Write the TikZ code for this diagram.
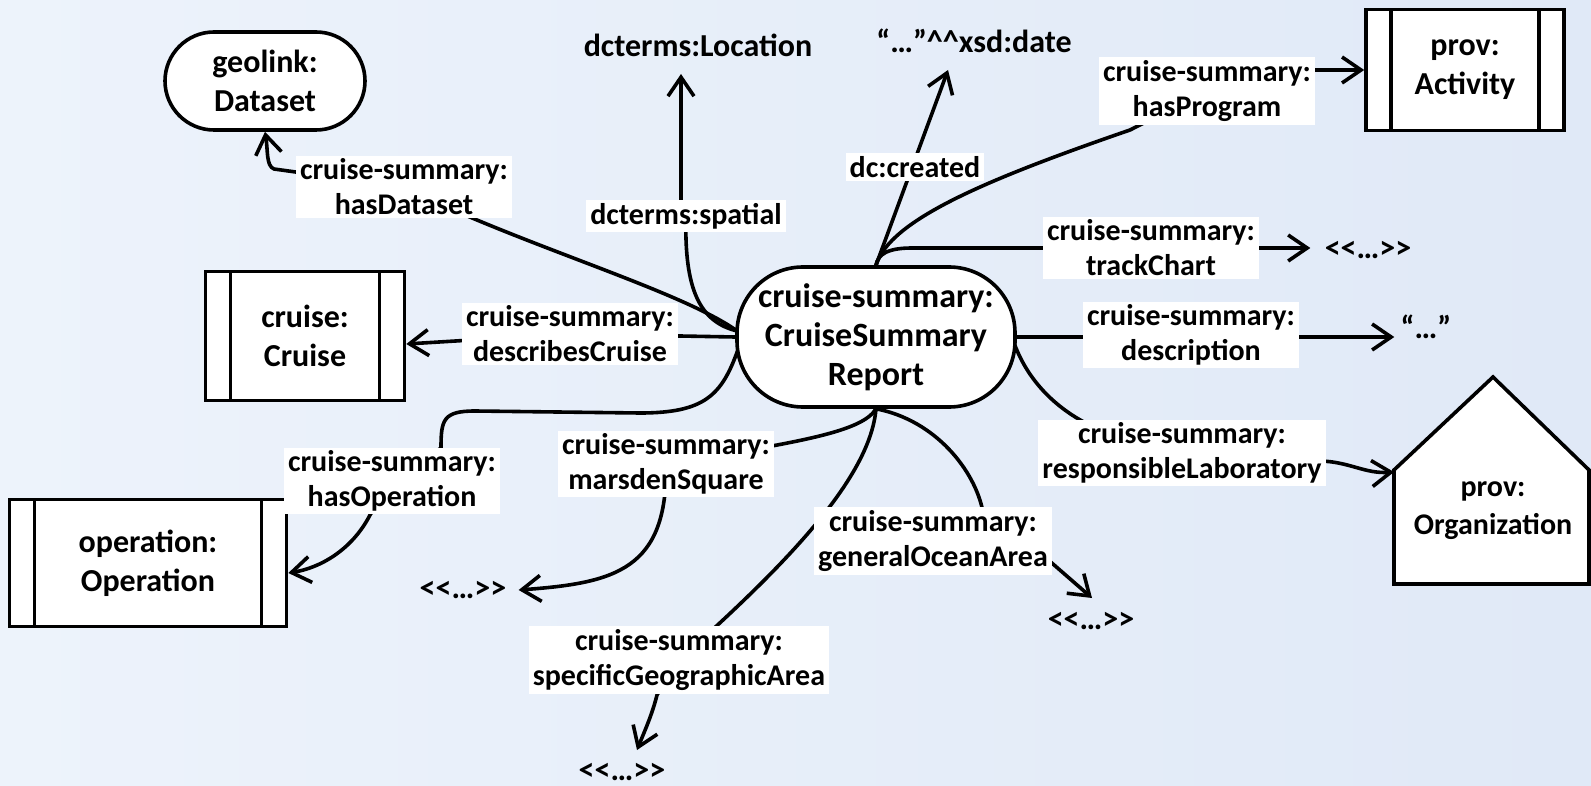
\documentclass[tikz,border=0pt]{standalone}
\usepackage{fontspec}
\setmainfont{Carlito}
\usetikzlibrary{arrows.meta,calc}
\pgfdeclarelayer{bgl}
\pgfdeclarelayer{edges}
\pgfsetlayers{bgl,edges,main}
\definecolor{bgA}{RGB}{237,243,251}
\definecolor{bgB}{RGB}{224,233,247}
\begin{document}
\begin{tikzpicture}[x=0.5pt,y=-0.5pt, line width=1.8pt,
  fnode/.style={font=\fontsize{16}{19.5}\selectfont\bfseries, align=center},
  lbl/.style={fill=white, inner xsep=2pt, inner ysep=1.5pt, align=center, font=\fontsize{15}{17.5}\selectfont\bfseries},
  stadium/.style={fnode, draw, fill=white, line width=1.8pt, inner sep=0pt},
  barbox/.style={fnode, draw, fill=white, line width=1.8pt, inner sep=0pt,
    path picture={
      \draw[line width=1.8pt] ([xshift=12.5pt]path picture bounding box.north west) -- ([xshift=12.5pt]path picture bounding box.south west);
      \draw[line width=1.8pt] ([xshift=-12.5pt]path picture bounding box.north east) -- ([xshift=-12.5pt]path picture bounding box.south east);}},
  plain/.style={fnode, inner sep=1pt},
  conn/.style={line width=1.8pt, line cap=round},
  arr/.style={-{Straight Barb[length=9.5pt,width=13pt]}}
]
\useasboundingbox (0,0) rectangle (1591,786);
\begin{pgfonlayer}{bgl}
\shade[left color=bgA, right color=bgB] (0,0) rectangle (1591,786);
\end{pgfonlayer}

% class nodes
\node[stadium, minimum width=100pt, minimum height=49pt, rounded corners=24.5pt] (geolink) at (265,81) {geolink:\\Dataset};
\node[stadium, minimum width=139pt, minimum height=70pt, rounded corners=33pt, font=\fontsize{17}{19.5}\selectfont\bfseries] (main) at (876,337) {cruise-summary:\\CruiseSummary\\Report};
\node[barbox, minimum width=99pt, minimum height=60.5pt] (act) at (1465,70) {prov:\\Activity};
\node[barbox, minimum width=99.5pt, minimum height=64.5pt] (cruise) at (305,336) {cruise:\\Cruise};
\node[barbox, minimum width=138.5pt, minimum height=63.5pt] (op) at (148,563) {operation:\\Operation};
\draw[line width=1.8pt, fill=white, line join=miter] (1394,470) -- (1493,377) -- (1589,470) -- (1589,584) -- (1394,584) -- cycle;
\node[plain, font=\fontsize{15}{19}\selectfont\bfseries] (org) at (1493,511) {prov:\\Organization};
\coordinate (orgL) at (1394,472);

% literal / open ends
\node[plain] (loc) at (698,45) {dcterms:Location};
\node[plain] (xsd) at (974,41) {“…”\textasciicircum\textasciicircum xsd:date};
\node[plain] (tcEnd) at (1368,250) {<{}<…>{}>};
\node[plain] (descEnd) at (1426,327) {“…”};
\node[plain] (msEnd) at (463,590) {<{}<…>{}>};
\node[plain] (oceanEnd) at (1091,621) {<{}<…>{}>};
\node[plain] (specEnd) at (622,772) {<{}<…>{}>};

% edge labels
\node[lbl] (lblDataset) at (404,187) {cruise-summary:\\hasDataset};
\node[lbl] (lblSpatial) at (686,216) {dcterms:spatial};
\node[lbl] (lblCreated) at (915,167) {dc:created};
\node[lbl] (lblProgram) at (1207,91) {cruise-summary:\\hasProgram};
\node[lbl] (lblTrack) at (1151,248) {cruise-summary:\\trackChart};
\node[lbl] (lblCruise) at (570,334) {cruise-summary:\\describesCruise};
\node[lbl] (lblDesc) at (1191,335) {cruise-summary:\\description};
\node[lbl] (lblLab) at (1182,453) {cruise-summary:\\responsibleLaboratory};
\node[lbl] (lblOperation) at (392,481) {cruise-summary:\\hasOperation};
\node[lbl] (lblMarsden) at (666,464) {cruise-summary:\\marsdenSquare};
\node[lbl] (lblOcean) at (933,541) {cruise-summary:\\generalOceanArea};
\node[lbl] (lblSpecific) at (679,660) {cruise-summary:\\specificGeographicArea};

\coordinate (mL) at ($(main.west)+(2,-6)$);
\coordinate (mL2) at ($(main.west)+(3,12)$);
\coordinate (locTip) at (681,74);
\coordinate (xsdTip) at (948,70);
\coordinate (specTip) at (637,750);
\coordinate (oceanTip) at (1092,598);

\begin{pgfonlayer}{edges}
\begin{scope}[conn]
% hasDataset
\draw (mL) .. controls (680,290) and (520,245) .. (lblDataset.center);
\draw[arr] (lblDataset.center) -- (274,169) .. controls (266,166) and (268,150) .. (geolink.south);
% dcterms:spatial
\draw (mL) .. controls (700,322) and (684,290) .. (lblSpatial.center);
\draw[arr] (lblSpatial.center -| locTip) -- (locTip);
% describesCruise
\draw[arr] (main.west) -- (lblCruise.center) -- ($(cruise.east)+(0,8)$);
% hasOperation
\draw (mL2) .. controls (722,395) and (705,413) .. (640,413) -- (475,411) .. controls (443,411) and (441,420) .. (441,448) -- (lblOperation.center);
\draw[arr] (lblOperation.center) -- (370,515) .. controls (352,550) and (320,568) .. ($(op.east)+(0,10)$);
% marsdenSquare
\draw (main.south) .. controls (862,432) and (800,442) .. (lblMarsden.center);
\draw[arr] (lblMarsden.center) .. controls (668,570) and (615,583) .. ($(msEnd.east)+(10,0)$);
% specificGeographicArea
\draw (main.south) .. controls (870,480) and (780,570) .. (lblSpecific.center);
\draw[arr] (lblSpecific.center) -- (657,695) .. controls (652,715) and (645,730) .. (specTip);
% generalOceanArea
\draw (main.south) .. controls (935,420) and (975,470) .. ($(lblOcean.north)+(50,5)$);
\draw[arr] ($(lblOcean.east)+(-5,18)$) -- (oceanTip);
% responsibleLaboratory
\draw ($(main.east)+(-2,8)$) .. controls (1030,385) and (1060,410) .. ($(lblLab.north west)+(50,5)$);
\draw[arr] ($(lblLab.east)+(-5,8)$) .. controls (1350,462) and (1365,474) .. (orgL);
% description
\draw[arr] (main.east) -- ($(descEnd.west |- main.east)+(-4,0)$);
% trackChart
\draw (main.north) .. controls (878,254) and (888,248) .. (912,248) -- (lblTrack.center);
\draw[arr] (lblTrack.center) -- ($(tcEnd.west)+(-12,-2)$);
% dc:created
\draw[arr] (main.north) -- (xsdTip);
% hasProgram
\draw (main.north) .. controls (890,220) and (985,180) .. (1130,130) -- (lblProgram.center);
\draw[arr] (lblProgram.east |- act.west) -- (act.west);
\end{scope}
\end{pgfonlayer}
\end{tikzpicture}
\end{document}
